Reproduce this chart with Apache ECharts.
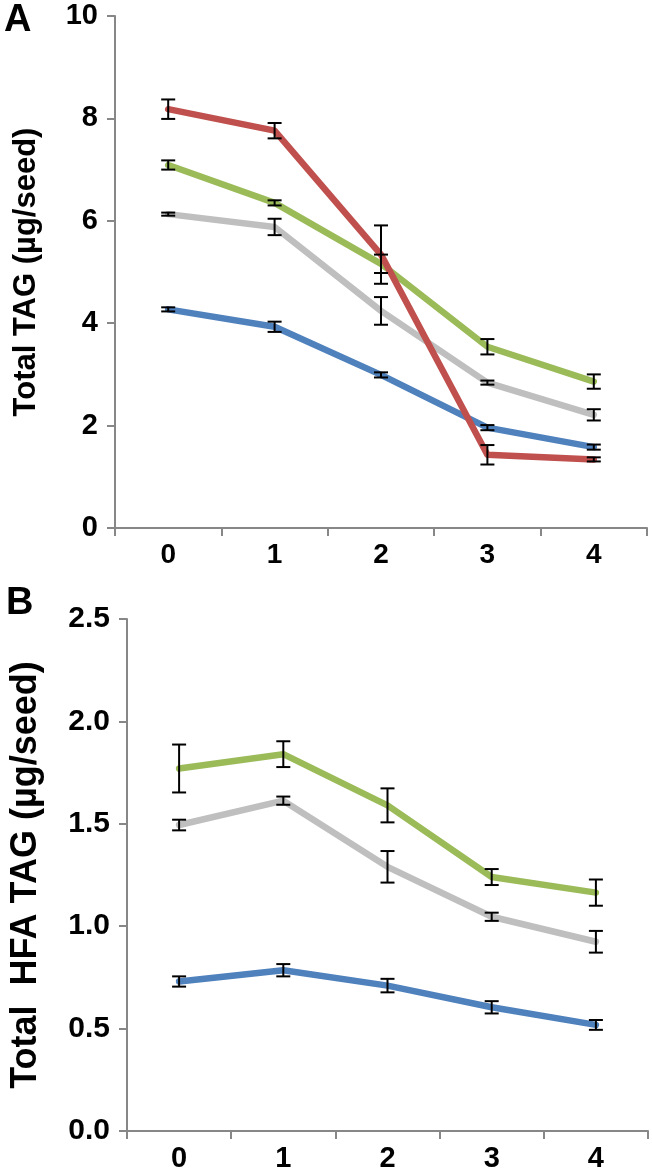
<!DOCTYPE html>
<html>
<head>
<meta charset="utf-8">
<script src="https://cdn.jsdelivr.net/npm/echarts@6/dist/echarts.min.js"></script>
<style>
html,body{margin:0;padding:0;background:#fff;}
#chart{width:652px;height:1175px;}
</style>
</head>
<body>
<div id="chart"></div>
<script>
// ---- data ----
const categories = ['0', '1', '2', '3', '4'];

const yTicksA = [0, 2, 4, 6, 8, 10];
const yTicksB = [0, 0.5, 1.0, 1.5, 2.0, 2.5];

// Panel A: Total TAG (µg/seed)
const blueA  = [4.27, 3.93, 2.99, 1.96, 1.58];
const blueAErr = [0.04, 0.10, 0.05, 0.05, 0.05];
const greenA = [7.09, 6.35, 5.16, 3.54, 2.86];
const greenAErr = [0.09, 0.05, 0.18, 0.15, 0.14];
const grayA  = [6.13, 5.88, 4.24, 2.84, 2.21];
const grayAErr = [0.03, 0.16, 0.27, 0.04, 0.11];
const redA   = [8.18, 7.76, 5.34, 1.43, 1.34];
const redAErr = [0.19, 0.15, 0.57, 0.19, 0.04];

// Panel B: Total HFA TAG (µg/seed)
const blueB  = [0.73, 0.785, 0.71, 0.604, 0.518];
const blueBErr = [0.025, 0.03, 0.033, 0.03, 0.024];
const greenB = [1.77, 1.84, 1.59, 1.24, 1.164];
const greenBErr = [0.117, 0.063, 0.083, 0.039, 0.064];
const grayB  = [1.494, 1.613, 1.29, 1.046, 0.924];
const grayBErr = [0.026, 0.02, 0.077, 0.02, 0.053];

// ---- styling ----
const FONT = '"Liberation Sans", Arial, sans-serif';
const AXIS_COLOR = '#878787';
const COLORS = { blue: '#4F81BD', red: '#C0504D', green: '#9BBB59', gray: '#BFBFBF' };

function errData(vals, errs) {
  return vals.map((v, i) => [i, v - errs[i], v + errs[i]]);
}
function errRender(params, api) {
  const x = api.value(0);
  const lo = api.coord([x, api.value(1)]);
  const hi = api.coord([x, api.value(2)]);
  const hw = 7;
  const st = { stroke: '#000', lineWidth: 2 };
  return {
    type: 'group',
    children: [
      { type: 'line', shape: { x1: hi[0], y1: hi[1], x2: lo[0], y2: lo[1] }, style: st },
      { type: 'line', shape: { x1: hi[0] - hw, y1: hi[1], x2: hi[0] + hw, y2: hi[1] }, style: st },
      { type: 'line', shape: { x1: lo[0] - hw, y1: lo[1], x2: lo[0] + hw, y2: lo[1] }, style: st }
    ]
  };
}
function lineSeries(data, color, idx) {
  return {
    type: 'line', data: data, xAxisIndex: idx, yAxisIndex: idx,
    showSymbol: false, symbol: 'none',
    lineStyle: { color: color, width: 6.5, cap: 'round', join: 'round' },
    itemStyle: { color: color }, z: 2
  };
}
function errSeries(vals, errs, idx) {
  return {
    type: 'custom', xAxisIndex: idx, yAxisIndex: idx,
    data: errData(vals, errs), renderItem: errRender,
    encode: { x: 0, y: [1, 2] }, z: 5, silent: true
  };
}
function xAxis(idx, fs) {
  return {
    type: 'category', gridIndex: idx, data: categories, boundaryGap: true,
    axisLine: { lineStyle: { color: AXIS_COLOR, width: 2 } },
    axisTick: { show: true, inside: false, length: 8, lineStyle: { color: AXIS_COLOR, width: 2 } },
    axisLabel: { color: '#000', fontFamily: FONT, fontWeight: 'bold', fontSize: fs, margin: 13 },
    splitLine: { show: false }
  };
}
function yAxis(idx, max, interval, name, nameGap, fs, nfs, fmt) {
  return {
    type: 'value', gridIndex: idx, min: 0, max: max, interval: interval,
    name: name, nameLocation: 'middle', nameRotate: 90, nameGap: nameGap,
    nameTextStyle: { color: '#000', fontFamily: FONT, fontWeight: 'bold', fontSize: nfs },
    axisLine: { show: true, lineStyle: { color: AXIS_COLOR, width: 2 } },
    axisTick: { show: true, inside: false, length: 8, lineStyle: { color: AXIS_COLOR, width: 2 } },
    axisLabel: { color: '#000', fontFamily: FONT, fontWeight: 'bold', fontSize: fs, margin: 17, formatter: fmt },
    splitLine: { show: false }
  };
}

const chart = echarts.init(document.getElementById('chart'), null, { renderer: 'canvas' });
chart.setOption({
  animation: false,
  backgroundColor: '#fff',
  title: [
    { text: 'A', left: -1, top: -3, textStyle: { fontFamily: FONT, fontWeight: 'bold', fontSize: 38, color: '#000' } },
    { text: 'B', left: 1, top: 580, textStyle: { fontFamily: FONT, fontWeight: 'bold', fontSize: 38, color: '#000' } }
  ],
  grid: [
    { left: 115, top: 16, width: 532, height: 512 },
    { left: 122, top: 619, width: 526, height: 512 }
  ],
  xAxis: [xAxis(0, 28), xAxis(1, 29)],
  yAxis: [
    yAxis(0, yTicksA[yTicksA.length - 1], yTicksA[1] - yTicksA[0], 'Total TAG (µg/seed)', 73, 29, 31, v => String(v)),
    yAxis(1, yTicksB[yTicksB.length - 1], yTicksB[1] - yTicksB[0], 'Total  HFA TAG (µg/seed)', 83, 30, 36, v => v.toFixed(1))
  ],
  series: [
    lineSeries(blueA, COLORS.blue, 0),
    lineSeries(greenA, COLORS.green, 0),
    lineSeries(grayA, COLORS.gray, 0),
    lineSeries(redA, COLORS.red, 0),
    errSeries(blueA, blueAErr, 0),
    errSeries(greenA, greenAErr, 0),
    errSeries(grayA, grayAErr, 0),
    errSeries(redA, redAErr, 0),
    lineSeries(blueB, COLORS.blue, 1),
    lineSeries(greenB, COLORS.green, 1),
    lineSeries(grayB, COLORS.gray, 1),
    errSeries(blueB, blueBErr, 1),
    errSeries(greenB, greenBErr, 1),
    errSeries(grayB, grayBErr, 1)
  ]
});
</script>
</body>
</html>
